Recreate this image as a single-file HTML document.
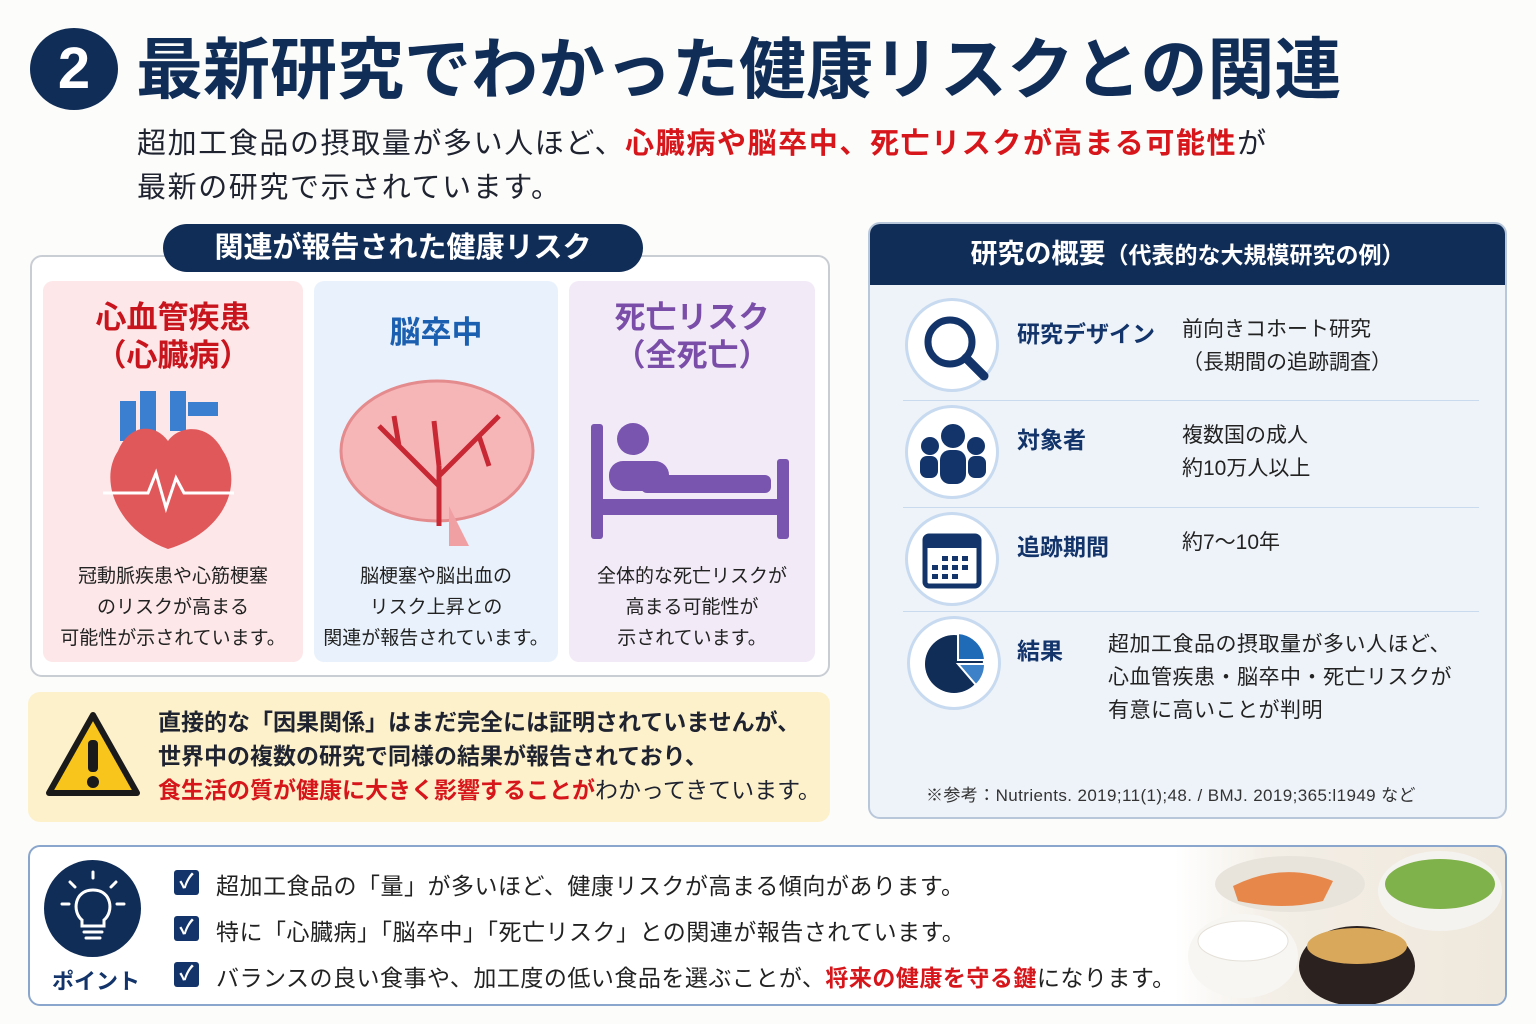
<!DOCTYPE html><html><head><meta charset="utf-8"><style>
*{margin:0;padding:0;box-sizing:border-box}
body{width:1536px;height:1024px;background:#fcfcfb;position:relative;overflow:hidden;font-family:"Liberation Sans","Noto Sans CJK JP",sans-serif;color:#1f2330}
.a{position:absolute}
.nv{color:#12346a}
.red{color:#d7161b}
.card{position:absolute;top:281px;height:381px;border-radius:10px;text-align:center}
.card h3{font-size:31px;font-weight:700;line-height:38px;margin-top:18px}
.card p{position:absolute;left:0;right:0;top:280px;font-size:19px;line-height:31px;color:#222}
.row .ic{position:absolute;width:94px;height:94px;border-radius:50%;border:3px solid #c7daf0;background:#fff}
.lbl{position:absolute;font-size:23px;font-weight:700;color:#12346a}
.val{position:absolute;font-size:21px;line-height:33px;color:#222}
.sep{position:absolute;left:903px;width:576px;height:1px;background:#c9d9ee}
.chk{position:absolute;left:174px;width:25px;height:25px;background:#12346a;border-radius:3px;color:#fff;font-size:20px;line-height:25px;text-align:center;font-weight:700}
.pt{position:absolute;left:216px;font-size:23px;color:#222;letter-spacing:0.5px}
</style></head><body>
<div class="a" style="left:30px;top:28px;width:88px;height:82px;border-radius:50%;background:#102d57;color:#fff;font-size:58px;font-weight:700;text-align:center;line-height:82px">2</div>
<div class="a nv" style="left:136px;top:30px;font-size:67px;font-weight:700;line-height:82px;color:#102d57">最新研究でわかった健康リスクとの関連</div>
<div class="a" style="left:137px;top:122px;font-size:29px;line-height:44px;color:#1f2330;letter-spacing:1.6px">超加工食品の摂取量が多い人ほど、<span class="red" style="font-weight:700">心臓病や脳卒中、死亡リスクが高まる可能性</span>が<br>最新の研究で示されています。</div>

<div class="a" style="left:30px;top:255px;width:800px;height:422px;border:2px solid #c9cdd4;border-radius:12px;background:#fff"></div>
<div class="a" style="left:163px;top:224px;width:480px;height:48px;border-radius:24px;background:#102d57;color:#fff;font-size:29px;font-weight:700;text-align:center;line-height:48px">関連が報告された健康リスク</div>

<div class="card" style="left:43px;width:260px;background:#fde7e8"><h3 style="color:#c8141c">心血管疾患<br>（心臓病）</h3>
<svg class="a" style="left:55px;top:100px" width="140" height="170" viewBox="0 0 140 170"><path d="M30 20 v40 M50 10 v40 M80 10 v40" stroke="#3a7fd0" stroke-width="16" fill="none"/><path d="M90 28 h30" stroke="#3a7fd0" stroke-width="14"/><path d="M20 70 C0 100 20 150 70 168 C130 150 145 100 125 70 C110 40 80 45 70 60 C55 40 30 45 20 70Z" fill="#e0585a"/><path d="M5 112 h45 l8 -20 l10 35 l10 -30 l8 15 h50" stroke="#fff" stroke-width="3" fill="none"/></svg>
<p>冠動脈疾患や心筋梗塞<br>のリスクが高まる<br>可能性が示されています。</p></div>
<div class="card" style="left:314px;width:244px;background:#e9f2fc"><h3 style="color:#1b5fb0;margin-top:33px">脳卒中</h3>
<svg class="a" style="left:25px;top:95px" width="200" height="175" viewBox="0 0 200 175"><ellipse cx="98" cy="75" rx="96" ry="70" fill="#f6b6b8" stroke="#e48b8e" stroke-width="3"/><path d="M110 130 q10 20 20 40 h-20 z" fill="#f0a0a3"/><path d="M100 150 V90 M100 110 L60 70 M100 100 L140 60 M60 70 L40 50 M60 70 L55 40 M140 60 L160 40 M140 60 L150 90 M100 90 L95 45" stroke="#c82833" stroke-width="5" fill="none"/></svg>
<p>脳梗塞や脳出血の<br>リスク上昇との<br>関連が報告されています。</p></div>
<div class="card" style="left:569px;width:246px;background:#f2eaf7"><h3 style="color:#7a4ea8">死亡リスク<br>（全死亡）</h3>
<svg class="a" style="left:22px;top:138px" width="200" height="122" viewBox="0 0 200 122"><rect x="0" y="5" width="12" height="115" rx="3" fill="#7a55b0"/><rect x="186" y="40" width="12" height="80" rx="3" fill="#7a55b0"/><rect x="0" y="80" width="198" height="16" fill="#7a55b0"/><circle cx="42" cy="20" r="16" fill="#7a55b0"/><rect x="18" y="42" width="60" height="30" rx="14" fill="#7a55b0"/><rect x="50" y="56" width="130" height="18" rx="6" fill="#7a55b0"/></svg>
<p>全体的な死亡リスクが<br>高まる可能性が<br>示されています。</p></div>

<div class="a" style="left:28px;top:692px;width:802px;height:130px;background:#fdf1cc;border-radius:12px"></div>
<svg class="a" style="left:45px;top:710px" width="96" height="88" viewBox="0 0 96 88"><path d="M48 5 L92 83 H4 Z" fill="#f8c51c" stroke="#1a1a1a" stroke-width="6" stroke-linejoin="round"/><rect x="43" y="30" width="10" height="32" rx="4" fill="#1a1a1a"/><circle cx="48" cy="72" r="6" fill="#1a1a1a"/></svg>
<div class="a" style="left:158px;top:705px;font-size:23px;line-height:34px;font-weight:700;color:#1f2330">直接的な「因果関係」はまだ完全には証明されていませんが、<br>世界中の複数の研究で同様の結果が報告されており、<br><span class="red">食生活の質が健康に大きく影響することが</span><span style="font-weight:400">わかってきています。</span></div>

<div class="a" style="left:868px;top:222px;width:639px;height:597px;border:2px solid #b9c7da;border-radius:12px;background:#eef3f9;overflow:hidden"><div style="height:61px;background:#102d57;color:#fff;font-size:27px;font-weight:700;text-align:center;line-height:61px">研究の概要<span style="font-size:23px">（代表的な大規模研究の例）</span></div></div>
<div class="row">
<div class="ic a" style="left:905px;top:298px"></div>
<svg class="a" style="left:920px;top:312px" width="72" height="72"><circle cx="30" cy="30" r="22" stroke="#12346a" stroke-width="7" fill="none"/><path d="M46 46 L64 64" stroke="#12346a" stroke-width="9" stroke-linecap="round"/></svg>
<div class="ic a" style="left:905px;top:405px"></div>
<svg class="a" style="left:918px;top:422px" width="70" height="62" fill="#12346a"><circle cx="35" cy="14" r="12"/><circle cx="12" cy="24" r="9"/><circle cx="58" cy="24" r="9"/><rect x="22" y="28" width="26" height="34" rx="10"/><rect x="2" y="34" width="18" height="22" rx="7"/><rect x="50" y="34" width="18" height="22" rx="7"/></svg>
<div class="ic a" style="left:905px;top:512px"></div>
<svg class="a" style="left:922px;top:528px" width="60" height="62"><rect x="3" y="8" width="54" height="50" rx="4" fill="none" stroke="#12346a" stroke-width="5"/><rect x="3" y="8" width="54" height="12" fill="#12346a"/><g fill="#12346a"><rect x="20" y="28" width="6" height="5"/><rect x="30" y="28" width="6" height="5"/><rect x="40" y="28" width="6" height="5"/><rect x="10" y="37" width="6" height="5"/><rect x="20" y="37" width="6" height="5"/><rect x="30" y="37" width="6" height="5"/><rect x="40" y="37" width="6" height="5"/><rect x="10" y="46" width="6" height="5"/><rect x="20" y="46" width="6" height="5"/><rect x="30" y="46" width="6" height="5"/></g></svg>
<div class="ic a" style="left:907px;top:616px"></div>
<svg class="a" style="left:924px;top:633px" width="62" height="62"><circle cx="30" cy="31" r="29" fill="#102d57"/><path d="M34 27 V0 A29 29 0 0 1 61 27Z" fill="#1f6bb8" stroke="#fff" stroke-width="2"/><path d="M34 31 H61 A29 29 0 0 1 52 52Z" fill="#3d82c8" stroke="#fff" stroke-width="2"/></svg>
</div>
<div class="sep" style="top:400px"></div><div class="sep" style="top:507px"></div><div class="sep" style="top:611px"></div>
<div class="lbl" style="left:1017px;top:315px">研究デザイン</div><div class="val" style="left:1182px;top:313px">前向きコホート研究<br>（長期間の追跡調査）</div>
<div class="lbl" style="left:1017px;top:421px">対象者</div><div class="val" style="left:1182px;top:419px">複数国の成人<br>約10万人以上</div>
<div class="lbl" style="left:1017px;top:528px">追跡期間</div><div class="val" style="left:1182px;top:526px">約7〜10年</div>
<div class="lbl" style="left:1017px;top:632px">結果</div><div class="val" style="left:1108px;top:628px;letter-spacing:0.5px">超加工食品の摂取量が多い人ほど、<br>心血管疾患・脳卒中・死亡リスクが<br>有意に高いことが判明</div>
<div class="a" style="left:926px;top:781px;font-size:17px;color:#333;letter-spacing:0.4px">※参考：Nutrients. 2019;11(1);48. / BMJ. 2019;365:l1949 など</div>

<div class="a" style="left:28px;top:845px;width:1479px;height:161px;border:2px solid #8aa6cc;border-radius:12px;background:#fff;overflow:hidden"><div class="a" style="right:0;top:0;width:330px;height:161px;background:linear-gradient(90deg,#fff,#f3eee6 30%,#efe8dc)"></div></div>
<div class="a" style="left:44px;top:860px;width:97px;height:97px;border-radius:50%;background:#102d57"></div>
<svg class="a" style="left:60px;top:870px" width="66" height="76"><g stroke="#fff" stroke-width="3" fill="none" stroke-linecap="round"><path d="M33 2 v6 M10 12 l5 5 M56 12 l-5 5 M2 34 h7 M64 34 h-7"/><path d="M22 50 C12 42 14 20 33 20 C52 20 54 42 44 50 V56 H22Z"/><path d="M24 62 h18 M26 68 h14"/></g></svg>
<div class="a nv" style="left:52px;top:964px;font-size:22px;font-weight:700">ポイント</div>
<div class="chk" style="top:870px">✓</div><div class="pt" style="top:867px">超加工食品の「量」が多いほど、健康リスクが高まる傾向があります。</div>
<div class="chk" style="top:916px">✓</div><div class="pt" style="top:913px">特に「心臓病」「脳卒中」「死亡リスク」との関連が報告されています。</div>
<div class="chk" style="top:962px">✓</div><div class="pt" style="top:959px">バランスの良い食事や、加工度の低い食品を選ぶことが、<span class="red" style="font-weight:700">将来の健康を守る鍵</span>になります。</div>
<svg class="a" style="left:1185px;top:846px" width="320" height="158"><ellipse cx="105" cy="38" rx="75" ry="28" fill="#e8e4dc"/><path d="M48 40 q50 -25 100 -5 l-10 20 q-40 10 -85 0z" fill="#e8874a"/><ellipse cx="255" cy="45" rx="62" ry="40" fill="#f5f3ef"/><ellipse cx="255" cy="38" rx="55" ry="25" fill="#7fb24a"/><ellipse cx="58" cy="110" rx="55" ry="42" fill="#f7f6f2"/><ellipse cx="58" cy="95" rx="45" ry="20" fill="#fff" stroke="#e5e1d9"/><ellipse cx="172" cy="120" rx="58" ry="40" fill="#2b2220"/><ellipse cx="172" cy="100" rx="50" ry="18" fill="#d9a85a"/></svg>
</body></html>
